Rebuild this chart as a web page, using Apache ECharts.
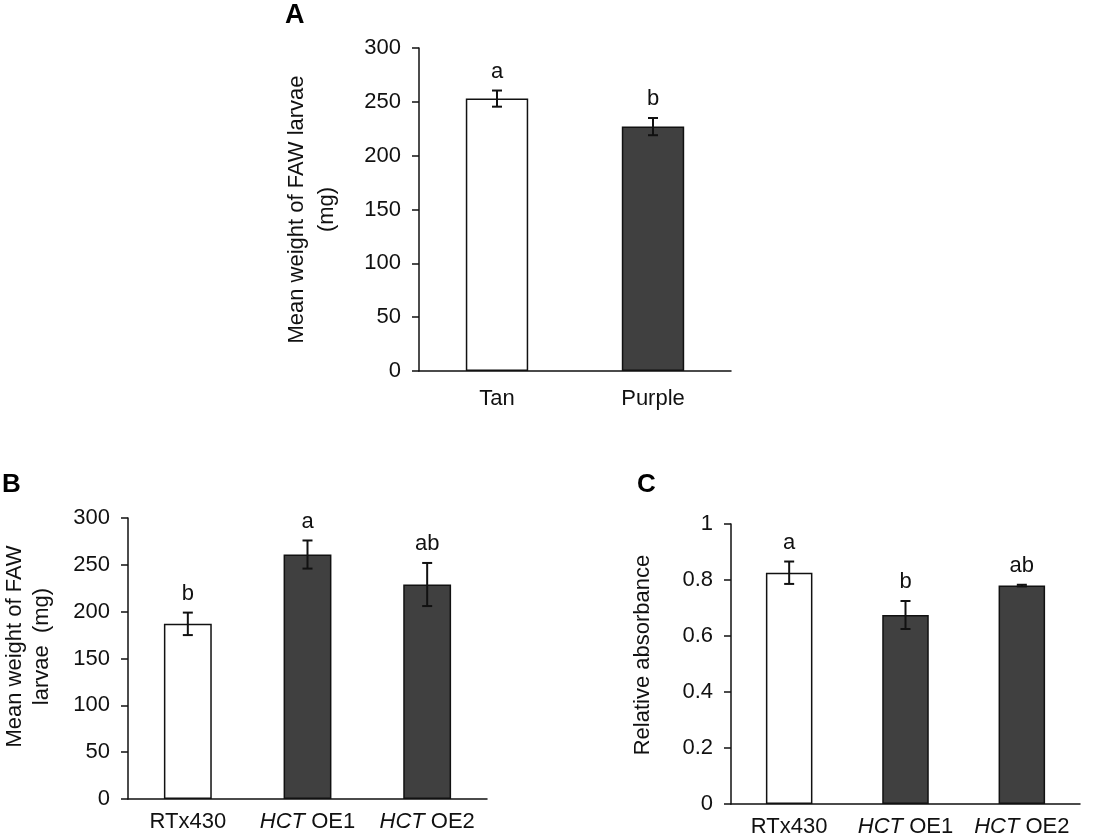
<!DOCTYPE html>
<html>
<head>
<meta charset="utf-8">
<script src="https://cdn.jsdelivr.net/npm/echarts@6/dist/echarts.min.js"></script>
<style>
  html, body { margin: 0; padding: 0; background: #fff; }
  #main { width: 1119px; height: 838px; }
</style>
</head>
<body>
<div id="main"></div>
<script>
// panel A: tan vs purple grain
var catsA = ['Tan', 'Purple'];
var weightA = [253, 227];
var errA = [7.5, 8];
var lettersA = ['a', 'b'];

// panels B and C: RTx430 vs HCT lines
var catsBC = ['RTx430', 'HCT OE1', 'HCT OE2'];
var weightB = [187, 261, 229];
var errB = [12, 15, 23];
var lettersB = ['b', 'a', 'ab'];
var absC = [0.826, 0.675, 0.78];
var errC = [0.04, 0.05, 0.003];
var lettersC = ['a', 'b', 'ab'];

var FONT = 'Liberation Sans, Arial, sans-serif';
var INK = '#111';
var DARK = '#404040';

// white bar for the control, dark bars for the rest
function barData(vals) {
    return vals.map(function (v, i) {
        return { value: v, itemStyle: { color: i === 0 ? '#fff' : DARK } };
    });
}

function errData(vals, errs, letters) {
    return vals.map(function (v, i) {
        return [i, v, errs[i], letters[i]];
    });
}

// error bar with caps + significance letter above it
function renderErr(params, api) {
    var x = api.value(0), m = api.value(1), e = api.value(2);
    var hi = api.coord([x, m + e]);
    var lo = api.coord([x, m - e]);
    var cap = 5;
    var st = { stroke: INK, lineWidth: 2 };
    return {
        type: 'group',
        children: [
            { type: 'line', shape: { x1: hi[0], y1: hi[1], x2: lo[0], y2: lo[1] }, style: st },
            { type: 'line', shape: { x1: hi[0] - cap, y1: hi[1], x2: hi[0] + cap, y2: hi[1] }, style: st },
            { type: 'line', shape: { x1: lo[0] - cap, y1: lo[1], x2: lo[0] + cap, y2: lo[1] }, style: st },
            { type: 'text', x: hi[0], y: hi[1] - 8,
              style: { text: api.value(3), fill: INK, font: '22px ' + FONT, align: 'center', verticalAlign: 'bottom' } }
        ]
    };
}

function xAxisOf(idx, cats, margin) {
    return {
        type: 'category', gridIndex: idx, data: cats,
        axisLine: { lineStyle: { color: INK, width: 1.5 } },
        axisTick: { length: 7, lineStyle: { color: INK, width: 1.5 } },
        axisLabel: {
            interval: 0, hideOverlap: false,
            margin: margin, color: INK, fontSize: 22, fontFamily: FONT,
            formatter: function (v) {
                if (v.indexOf('HCT ') === 0) return '{i|HCT}' + v.slice(3);
                return v;
            },
            rich: { i: { fontStyle: 'italic', fontSize: 22, fontFamily: FONT, color: INK } }
        }
    };
}

function yAxisOf(idx, max, interval, name, gap, lh, pad) {
    return {
        type: 'value', gridIndex: idx, min: 0, max: max, interval: interval,
        name: name, nameLocation: 'middle', nameGap: gap,
        nameTextStyle: { color: INK, fontSize: 22, fontFamily: FONT, lineHeight: lh, padding: pad },
        axisLine: { show: true, lineStyle: { color: INK, width: 1.5 } },
        axisTick: { show: true, length: 7, lineStyle: { color: INK, width: 1.5 } },
        axisLabel: { margin: 18, color: INK, fontSize: 22, fontFamily: FONT },
        splitLine: { show: false }
    };
}

function barSeries(idx, vals) {
    return {
        type: 'bar', xAxisIndex: idx, yAxisIndex: idx, barWidth: '40%',
        itemStyle: { borderColor: INK, borderWidth: 1.5 },
        data: barData(vals), z: 2
    };
}

function errSeries(idx, vals, errs, letters) {
    return {
        type: 'custom', xAxisIndex: idx, yAxisIndex: idx,
        renderItem: renderErr, data: errData(vals, errs, letters), z: 3
    };
}

var chart = echarts.init(document.getElementById('main'));
chart.setOption({
    animation: false,
    textStyle: { fontFamily: FONT },
    grid: [
        { left: 419, right: 388, top: 48, bottom: 467 },
        { left: 123, right: 632, top: 518, bottom: 39 },
        { left: 731, right: 39, top: 524, bottom: 31 }
    ],
    xAxis: [xAxisOf(0, catsA, 17), xAxisOf(1, catsBC, 12), xAxisOf(2, catsBC, 12)],
    yAxis: [
        yAxisOf(0, 300, 50, 'Mean weight of FAW larvae\n(mg)', 77, 30, 0),
        yAxisOf(1, 300, 50, 'Mean weight of FAW\nlarvae  (mg)', 73, 27, [0, 0, 0, 24]),
        yAxisOf(2, 1, 0.2, 'Relative absorbance', 74, 28, [0, 0, 0, 18])
    ],
    graphic: [
        { type: 'text', left: 285, top: 2, style: { text: 'A', fill: '#000', font: 'bold 27px ' + FONT } },
        { type: 'text', left: 2, top: 472, style: { text: 'B', fill: '#000', font: 'bold 26px ' + FONT } },
        { type: 'text', left: 637, top: 472, style: { text: 'C', fill: '#000', font: 'bold 26px ' + FONT } }
    ],
    series: [
        barSeries(0, weightA), errSeries(0, weightA, errA, lettersA),
        barSeries(1, weightB), errSeries(1, weightB, errB, lettersB),
        barSeries(2, absC), errSeries(2, absC, errC, lettersC)
    ]
});
</script>
</body>
</html>
